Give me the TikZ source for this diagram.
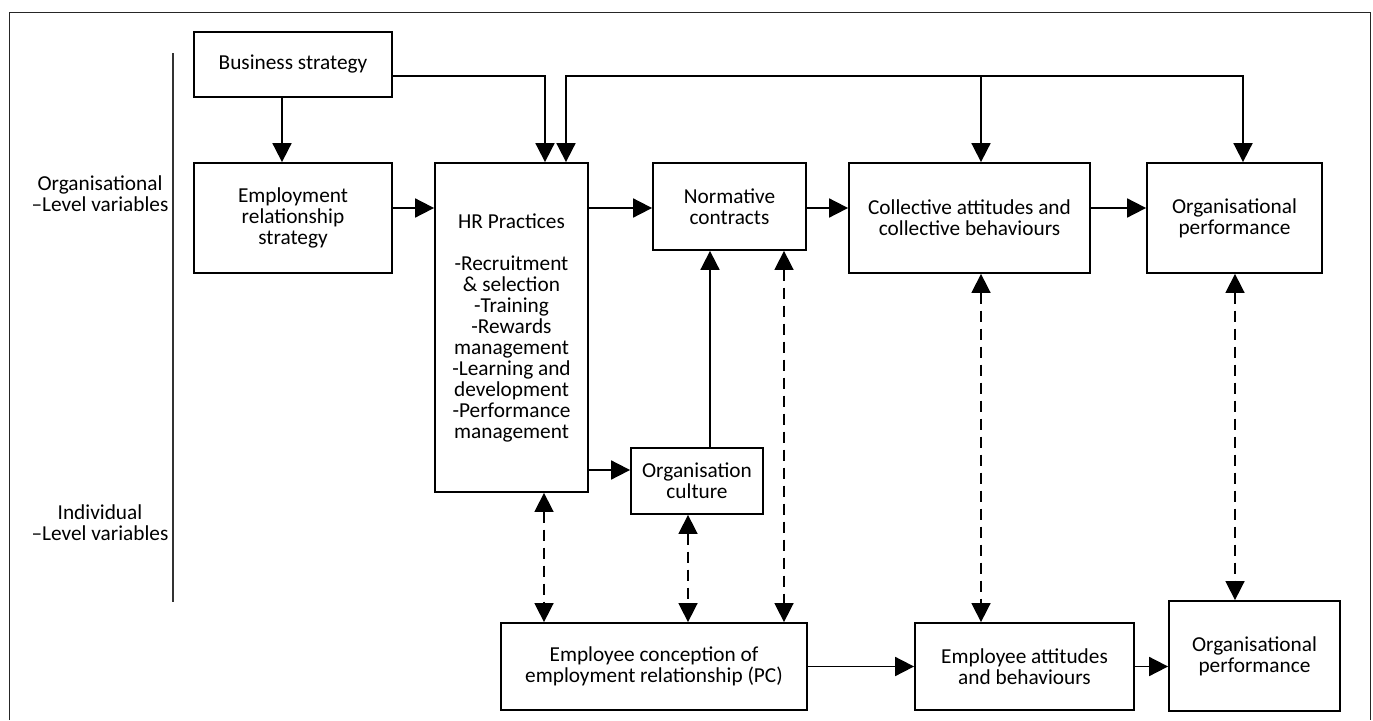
\documentclass[tikz,border=0pt]{standalone}
\usepackage{fontspec}
\setmainfont{Carlito}
\usetikzlibrary{arrows.meta,calc}
\begin{document}
\begin{tikzpicture}[x=1pt,y=-1pt,
  txt/.style={font=\fontsize{21.3}{21}\selectfont},
  box/.style={txt,draw=black,line width=1.8pt,align=center,inner sep=0pt},
  lbl/.style={txt,align=center,inner sep=0pt},
  arr/.style={line width=1.8pt,-{Triangle[length=19pt,width=19pt]}},
  darr/.style={line width=1.6pt,dash pattern=on 11pt off 7pt,{Triangle[length=19pt,width=19pt]}-{Triangle[length=19pt,width=19pt]}}
]
\useasboundingbox (0,0) rectangle (1373,720);
% frame
\draw[line width=1pt,draw=black!85] (9,720) -- (9,12) -- (1370,12) -- (1370,720);
% divider
\draw[line width=1.4pt,draw=black!80] (173,53) -- (173,602);

% labels
\node[lbl] (orglbl) at (100,194) {Organisational\\–Level variables};
\node[lbl] (indlbl) at (100,523) {Individual\\–Level variables};

% boxes
\node[box,minimum width=198pt,minimum height=65pt] (biz) at (293,64.5) {Business strategy};
\node[box,minimum width=198pt,minimum height=110pt] (emp) at (293,218) {Employment\\relationship\\strategy};
\node[box,minimum width=153pt,minimum height=329pt] (hr) at (511.5,327.5) {HR Practices\\[21pt]-Recruitment\\\& selection\\-Training\\-Rewards\\management\\-Learning and\\development\\-Performance\\management};
\node[box,minimum width=153pt,minimum height=87pt] (norm) at (729.5,206.5) {Normative\\contracts};
\node[box,minimum width=241pt,minimum height=110pt] (coll) at (969.5,218) {Collective attitudes and\\collective behaviours};
\node[box,minimum width=175pt,minimum height=110pt] (perf1) at (1234.5,218) {Organisational\\performance};
\node[box,minimum width=132pt,minimum height=66pt] (cult) at (697,481) {Organisation\\culture};
\node[box,minimum width=306pt,minimum height=87pt] (conc) at (654,666.5) {Employee conception of\\employment relationship (PC)};
\node[box,minimum width=219pt,minimum height=87pt] (att) at (1024.5,666.5) {Employee attitudes\\and behaviours};
\node[box,minimum width=171pt,minimum height=110pt] (perf2) at (1254.5,656) {Organisational\\performance};

% helper coordinates
\coordinate (bus) at (981,76);

% solid arrows
\draw[arr] ($(biz.south)+(-11,0)$) coordinate (a1) -- (a1 |- emp.north);
\draw[arr] ($(biz.east)+(0,11.5)$) -| ($(hr.north)+(33.5,0)$);
\draw[arr] (bus) -| ($(hr.north)+(54.5,0)$);
\draw[arr] (bus) -- ($(coll.north)+(11.5,0)$);
\draw[arr] (bus) -| ($(perf1.north)+(8.5,0)$);
\draw[arr] ($(emp.east)+(0,-10)$) coordinate (a2) -- (a2 -| hr.west);
\path ($(norm.west)+(0,1.5)$) coordinate (a3);
\draw[arr] (a3 -| hr.east) -- (a3);
\path ($(coll.west)+(0,-10)$) coordinate (a4);
\draw[arr] (a4 -| norm.east) -- (a4);
\path ($(perf1.west)+(0,-10)$) coordinate (a5);
\draw[arr] (a5 -| coll.east) -- (a5);
\path ($(cult.west)+(0,-11)$) coordinate (a6);
\draw[arr] (a6 -| hr.east) -- (a6);
\draw[arr] ($(cult.north)+(13,0)$) coordinate (a7) -- (a7 |- norm.south);
\draw[arr] (conc.east) -- (conc.east -| att.west);
\draw[arr] (att.east) -- (att.east -| perf2.west);

% dashed bidirectional arrows
\draw[darr] ($(hr.south)+(32.5,0)$) coordinate (d1) -- (d1 |- conc.north);
\draw[darr] ($(cult.south)+(-9,0)$) coordinate (d2) -- (d2 |- conc.north);
\draw[darr] ($(norm.south)+(54.5,0)$) coordinate (d3) -- (d3 |- conc.north);
\draw[darr] ($(coll.south)+(11.5,0)$) coordinate (d4) -- (d4 |- att.north);
\draw[darr] ($(perf1.south)+(0.5,0)$) coordinate (d5) -- (d5 |- perf2.north);
\end{tikzpicture}
\end{document}
